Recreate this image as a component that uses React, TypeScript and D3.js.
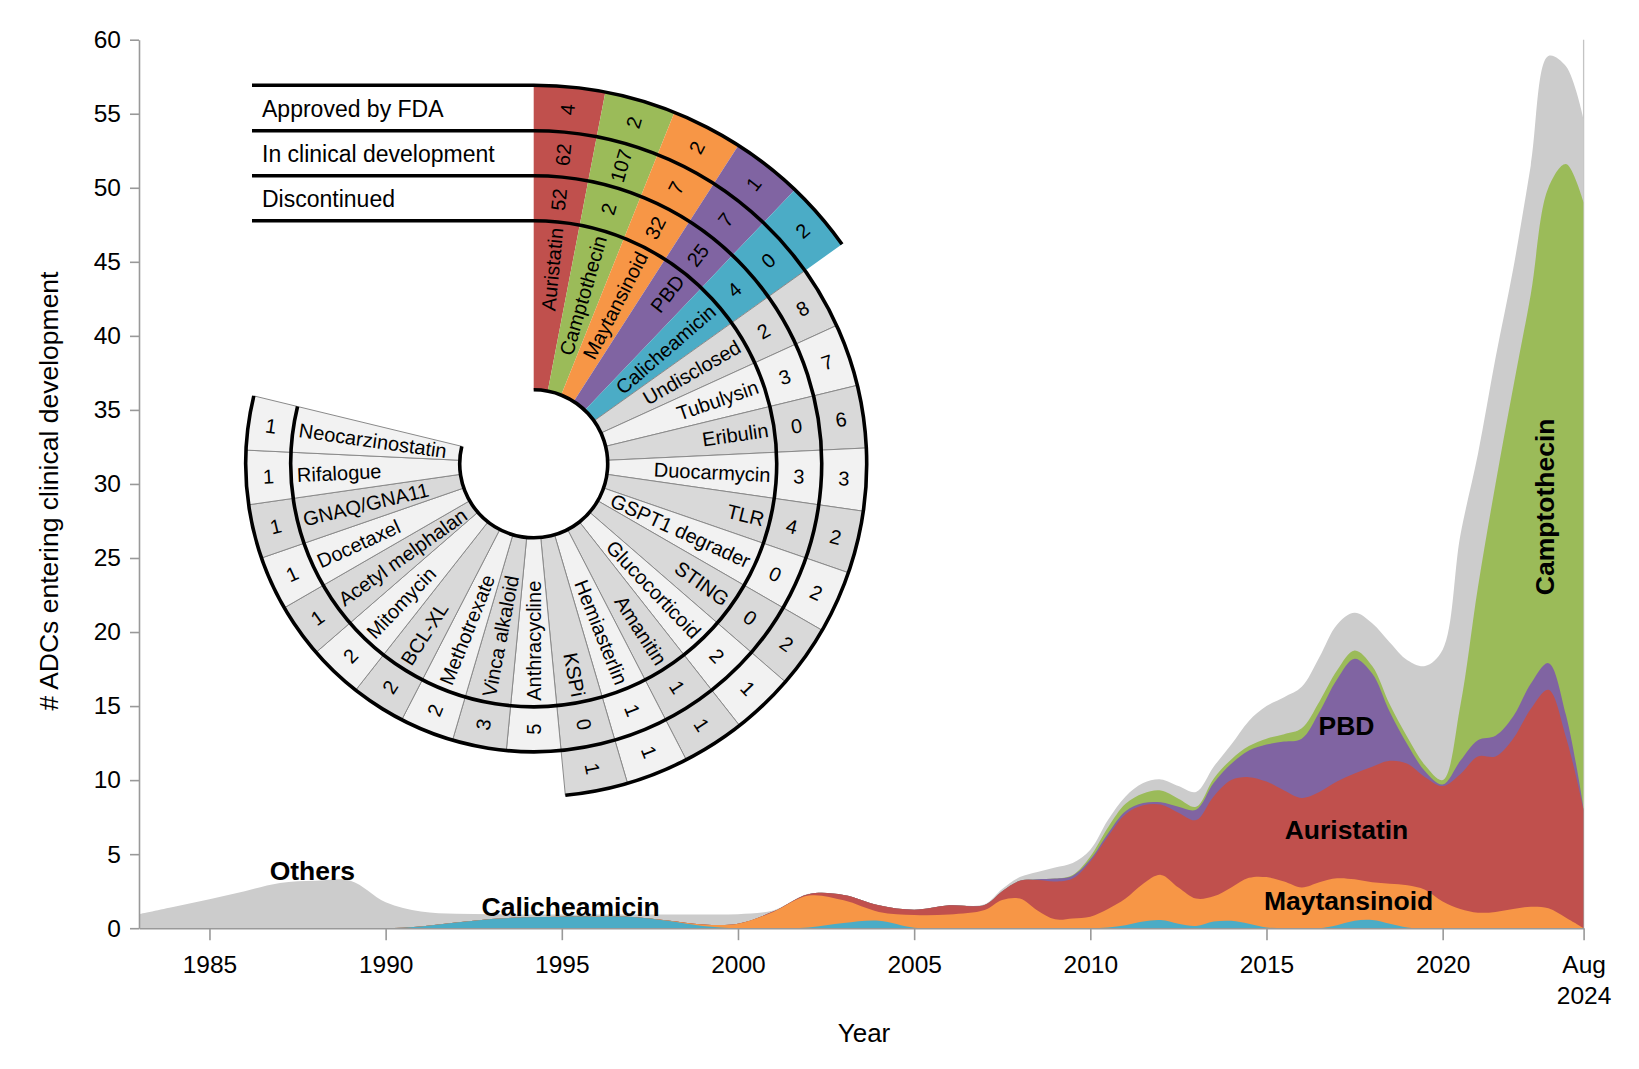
import React, { useEffect, useRef } from "react";
import * as d3 from "d3";

// ---------- Stream (stacked area) data ----------
const years = [
  1983, 1984, 1985, 1986, 1987, 1988, 1989, 1990, 1991, 1992, 1993, 1994, 1995,
  1996, 1997, 1998, 1999, 2000, 2001, 2002, 2003, 2004, 2005, 2006, 2007,
  2007.5, 2008, 2008.5, 2009, 2009.5, 2010, 2010.5, 2011, 2011.5, 2012, 2012.5,
  2013, 2013.5, 2014, 2014.5, 2015, 2015.5, 2016, 2016.5, 2017, 2017.5, 2018,
  2018.5, 2019, 2019.5, 2020, 2020.5, 2021, 2021.5, 2022, 2022.5, 2023, 2023.5,
  2024,
];
const calicheamicin = [
  0, 0, 0, 0, 0, 0, 0, 0, 0.12, 0.38, 0.62, 0.74, 0.78, 0.78, 0.76, 0.5, 0.15,
  0, 0, 0.05, 0.35, 0.5, 0.03, 0, 0,
  0, 0, 0, 0, 0, 0, 0.05, 0.2, 0.45, 0.55, 0.3, 0.15, 0.45, 0.5, 0.3, 0.05, 0,
  0, 0, 0.2, 0.5, 0.55, 0.3, 0.05, 0, 0, 0, 0, 0, 0, 0, 0, 0, 0,
];
const maytansinoid = [
  0, 0, 0, 0, 0, 0, 0, 0, 0, 0, 0, 0, 0, 0, 0, 0.02, 0.1, 0.3, 1.1, 2.15, 1.53,
  0.6, 0.86, 0.93, 1.23,
  1.9, 2.0, 1.2, 0.6, 0.66, 0.78, 1.25, 1.8, 2.55, 3.05, 2.45, 1.85, 1.7, 2.25,
  3.1, 3.4, 3.15, 2.75, 3.1, 3.17, 2.8, 2.55, 2.7, 2.85, 2.6, 1.8, 1.3, 1.05,
  1.1, 1.3, 1.45, 1.34, 0.7, 0,
];
const auristatin = [
  0, 0, 0, 0, 0, 0, 0, 0, 0, 0, 0, 0, 0, 0, 0, 0, 0, 0, 0.02, 0.1, 0.37, 0.45,
  0.36, 0.62, 0.34,
  0.6, 1.2, 2.05, 2.55, 2.69, 3.72, 4.9, 5.7, 5.3, 4.75, 5.05, 5.3, 6.75, 7.25,
  6.8, 6.45, 6.15, 6.05, 6.1, 6.53, 7.15, 7.8, 8.3, 8.2, 7.6, 7.8, 9.1, 10.55,
  10.5, 11.5, 13.35, 14.76, 12.2, 8.0,
];
const pbd = [
  0, 0, 0, 0, 0, 0, 0, 0, 0, 0, 0, 0, 0, 0, 0, 0, 0, 0, 0, 0, 0, 0, 0, 0, 0,
  0, 0, 0.05, 0.2, 0.2, 0.15, 0.2, 0.2, 0.15, 0.15, 0.4, 0.7, 0.9, 1.1, 1.8,
  2.5, 3.3, 4.0, 5.4, 6.9, 7.75, 6.3, 3.3, 1.3, 0.4, 0.1, 0.9, 1.1, 1.4, 1.5,
  1.7, 1.8, 1.5, 0.1,
];
const camptothecin = [
  0, 0, 0, 0, 0, 0, 0, 0, 0, 0, 0, 0, 0, 0, 0, 0, 0, 0, 0, 0, 0, 0, 0, 0, 0,
  0, 0, 0, 0, 0.05, 0.2, 0.4, 0.5, 0.65, 0.8, 0.55, 0.2, 0.3, 0.3, 0.3, 0.4,
  0.5, 0.7, 0.7, 0.6, 0.55, 0.5, 0.5, 0.5, 0.4, 0.3, 3.7, 10.3, 17.0, 22.2,
  26.3, 32.1, 37.2, 40.9,
];
const others = [
  0.95, 1.45, 1.95, 2.5, 3.05, 3.2, 3.2, 1.75, 1.0, 0.59, 0.32, 0.18, 0.14, 0.14,
  0.16, 0.4, 0.67, 0.65, 0.08, 0.02, 0, 0, 0, 0, 0.05,
  0.15, 0.25, 0.5, 0.75, 0.8, 0.45, 0.5, 0.5, 0.7, 0.75, 0.85, 1.0, 0.8, 1.0,
  1.7, 2.2, 2.5, 2.8, 3.0, 3.1, 2.55, 2.9, 4.2, 5.2, 6.7, 8.8, 11.5, 9.0, 8.5,
  8.0, 8.7, 8.9, 6.6, 5.6,
];

const seriesKeys = ["Calicheamicin", "Maytansinoid", "Auristatin", "PBD", "Camptothecin", "Others"];
const seriesValues = [calicheamicin, maytansinoid, auristatin, pbd, camptothecin, others];
const seriesColors = ["#4bacc6", "#f79646", "#c0504d", "#8064a2", "#9bbb59", "#cccccc"];

const yTicks = [0, 5, 10, 15, 20, 25, 30, 35, 40, 45, 50, 55, 60];
const xTickYears = [1985, 1990, 1995, 2000, 2005, 2010, 2015, 2020, 2024];
const xTickLabels = ["1985", "1990", "1995", "2000", "2005", "2010", "2015", "2020", "Aug 2024"];

// area labels: [text, year, value, rotated]
const areaLabels: [string, number, number, boolean][] = [
  ["Others", 1987.92, 3.85, false],
  ["Calicheamicin", 1995.25, 1.45, false],
  ["Maytansinoid", 2017.33, 1.84, false],
  ["Auristatin", 2017.27, 6.63, false],
  ["PBD", 2017.27, 13.63, false],
  ["Camptothecin", 2022.91, 28.45, true],
];

// ---------- Radial payload data ----------
const payloads = [
  "Auristatin", "Camptothecin", "Maytansinoid", "PBD", "Calicheamicin",
  "Undisclosed", "Tubulysin", "Eribulin", "Duocarmycin", "TLR", "GSPT1 degrader",
  "STING", "Glucocorticoid", "Amanitin", "Hemiasterlin", "KSPi", "Anthracycline",
  "Vinca alkaloid", "Methotrexate", "BCL-XL", "Mitomycin", "Acetyl melphalan",
  "Docetaxel", "GNAQ/GNA11", "Rifalogue", "Neocarzinostatin",
];
const discontinued = [52, 2, 32, 25, 4, 2, 3, 0, 3, 4, 0, 0, 2, 1, 1, 0, 5, 3, 2, 2, 2, 1, 1, 1, 1, 1];
const inClinical = [62, 107, 7, 7, 0, 8, 7, 6, 3, 2, 2, 2, 1, 1, 1, 1];
const approvedFDA = [4, 2, 2, 1, 2];
const ringNames = ["Approved by FDA", "In clinical development", "Discontinued"];
const payloadColors = ["#c0504d", "#9bbb59", "#f79646", "#8064a2", "#4bacc6"];

const FONT = "'Liberation Sans', Arial, Helvetica, sans-serif";
const W = 1639;
const H = 1069;

const x = d3.scaleLinear().domain([1983, 2024]).range([139, 1583.6]);
const y = d3.scaleLinear().domain([0, 60]).range([928.2, 39.7]);

const table = years.map((yr, i) => {
  const row: any = { year: yr };
  seriesKeys.forEach((k, j) => (row[k] = seriesValues[j][i]));
  return row;
});
const stacked = d3.stack().keys(seriesKeys)(table);

const areaGen = d3
  .area<any>()
  .x((d) => x(d.data.year))
  .y0(() => y(0))
  .y1((d) => y(d[1]))
  .curve(d3.curveCatmullRom.alpha(0.5));

// radial geometry
const cx = 533.7;
const cy = 463.8;
const R = [74, 243, 288, 333, 378.5];
const step = (2 * Math.PI) / 33;
const arcGen = d3.arc<any>();
const lineLeft = 252;

function polar(r: number, a: number): [number, number] {
  return [r * Math.sin(a), -r * Math.cos(a)];
}

function thickArc(r: number, endA: number, withLine: boolean) {
  const p = d3.path();
  if (withLine) {
    p.moveTo(lineLeft - cx, -r);
    p.lineTo(0, -r);
  } else {
    p.moveTo(0, -r);
  }
  p.arc(0, 0, r, -Math.PI / 2, endA - Math.PI / 2);
  return p.toString();
}

function cellFill(i: number) {
  if (i < 5) return payloadColors[i];
  return i % 2 === 1 && i < 25 ? "#d9d9d9" : "#f2f2f2";
}

function Radial() {
  const cells: JSX.Element[] = [];
  const texts: JSX.Element[] = [];
  payloads.forEach((name, i) => {
    const a0 = i * step;
    const a1 = (i + 1) * step;
    const fill = cellFill(i);
    const stroke = i < 5 ? "none" : "#8a8a8a";
    const rings: [number, number, number | null][] = [[R[0], R[1], null], [R[1], R[2], discontinued[i]]];
    if (i < inClinical.length) rings.push([R[2], R[3], inClinical[i]]);
    if (i < approvedFDA.length) rings.push([R[3], R[4], approvedFDA[i]]);
    const ac = (a0 + a1) / 2;
    const deg = (ac * 180) / Math.PI;
    const rightSide = deg < 179.9;
    const rot = rightSide ? deg - 90 : deg + 90;
    rings.forEach(([ri, ro, v], k) => {
      cells.push(
        <path
          key={`c${i}-${k}`}
          d={arcGen({ innerRadius: ri, outerRadius: ro, startAngle: a0, endAngle: a1 }) as string}
          fill={fill}
          stroke={stroke}
          strokeWidth={1}
        />
      );
      if (v !== null) {
        const [tx, ty] = polar((ri + ro) / 2, ac);
        texts.push(
          <text
            key={`v${i}-${k}`}
            transform={`translate(${tx},${ty}) rotate(${rot})`}
            textAnchor="middle"
            dominantBaseline="central"
            fontSize={20}
          >
            {v}
          </text>
        );
      }
    });
    const [lx, ly] = polar(R[1] - 6, ac);
    texts.push(
      <text
        key={`l${i}`}
        transform={`translate(${lx},${ly}) rotate(${rot})`}
        textAnchor={rightSide ? "end" : "start"}
        dominantBaseline="central"
        fontSize={20}
      >
        {name}
      </text>
    );
  });
  const n = payloads.length;
  return (
    <g transform={`translate(${cx},${cy})`} fontFamily={FONT} fill="#000">
      {cells}
      {texts}
      <g fill="none" stroke="#000" strokeWidth={3.6}>
        <path d={thickArc(R[0], n * step, false)} />
        <path d={thickArc(R[1], n * step, true)} />
        <path d={thickArc(R[2], n * step, true)} />
        <path d={thickArc(R[3], inClinical.length * step, true)} />
        <path d={thickArc(R[4], approvedFDA.length * step, true)} />
      </g>
      {ringNames.map((rn, k) => (
        <text
          key={rn}
          x={262 - cx}
          y={-(R[4 - k] + R[3 - k]) / 2 + 1}
          dominantBaseline="central"
          fontSize={23}
        >
          {rn}
        </text>
      ))}
    </g>
  );
}

export default function App() {
  const axRef = useRef<SVGGElement>(null);

  useEffect(() => {
    const g = d3.select(axRef.current);
    g.selectAll("*").remove();
    const yAxis = d3.axisLeft(y).tickValues(yTicks).tickSize(9).tickSizeOuter(0).tickPadding(9);
    const yg = g.append("g").attr("transform", `translate(${x(1983)},0)`).call(yAxis as any);
    const xAxis = d3
      .axisBottom(x)
      .tickValues(xTickYears)
      .tickFormat((_d: any, i: number) => xTickLabels[i])
      .tickSize(12)
      .tickSizeOuter(0)
      .tickPadding(15);
    const xg = g.append("g").attr("transform", `translate(0,${y(0)})`).call(xAxis as any);
    [yg, xg].forEach((a) => {
      a.attr("font-size", 24.5).attr("font-family", FONT);
      a.selectAll("path, line").attr("stroke", "#999").attr("stroke-width", 1.6);
      a.selectAll("text").attr("fill", "#000");
    });
    xg.selectAll<SVGTextElement, number>(".tick text").each(function (_d, i) {
      const lbl = xTickLabels[i];
      if (lbl.includes(" ")) {
        const t = d3.select(this);
        t.text(null).attr("dy", null);
        lbl.split(" ").forEach((part, j) => {
          t.append("tspan").attr("x", 0).attr("dy", j === 0 ? "0.71em" : "1.3em").text(part);
        });
      }
    });
  }, []);

  const layers = stacked.slice().reverse();

  return (
    <div style={{ position: "absolute", left: 0, top: 0 }}>
      <svg width={W} height={H} style={{ display: "block", background: "#fff" }}>
        <defs>
          <clipPath id="plotClip">
            <rect x={x(1983)} y={0} width={x(2024) - x(1983)} height={y(0)} />
          </clipPath>
        </defs>
        <rect width={W} height={H} fill="#fff" />
        <line x1={x(2024)} x2={x(2024)} y1={y(60)} y2={y(0)} stroke="#c4c4c4" strokeWidth={1.3} />
        <g clipPath="url(#plotClip)">
          {layers.map((s) => (
            <path
              key={s.key}
              d={areaGen(s as any) as string}
              fill={seriesColors[seriesKeys.indexOf(s.key)]}
            />
          ))}
        </g>
        <g ref={axRef} />
        <g fontFamily={FONT} fontWeight="bold" fontSize={26.5} fill="#000">
          {areaLabels.map(([t, yr, v, rotated]) => (
            <text
              key={t}
              transform={`translate(${x(yr)},${y(v)})${rotated ? " rotate(-90)" : ""}`}
              textAnchor="middle"
              dominantBaseline="central"
            >
              {t}
            </text>
          ))}
        </g>
        <text
          x={864}
          y={1033}
          textAnchor="middle"
          dominantBaseline="central"
          fontFamily={FONT}
          fontSize={26}
        >
          Year
        </text>
        <text
          transform={`translate(49,491) rotate(-90)`}
          textAnchor="middle"
          dominantBaseline="central"
          fontFamily={FONT}
          fontSize={26.5}
        >
          # ADCs entering clinical development
        </text>
        <Radial />
      </svg>
    </div>
  );
}
